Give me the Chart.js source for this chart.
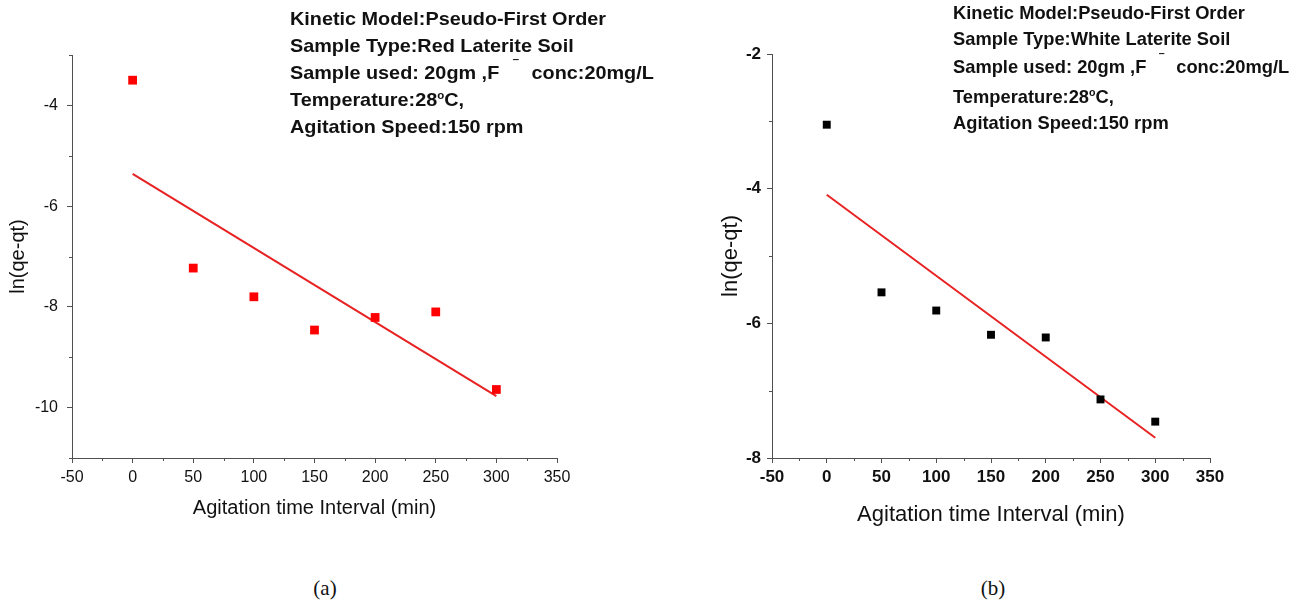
<!DOCTYPE html>
<html>
<head>
<meta charset="utf-8">
<script src="https://cdn.jsdelivr.net/npm/chart.js@4.4.1/dist/chart.umd.min.js"></script>
<style>
  body { margin: 0; background: #fff; }
  #wrap { position: relative; width: 1301px; height: 606px; overflow: hidden; }
  canvas { position: absolute; top: 0; }
  .note-line { position: absolute; white-space: nowrap; font-weight: bold; font-size: 19px;
               line-height: 20px; height: 20px; color: #111; transform-origin: 0 50%; }
  .note-line sup { font-size: 11px; position: relative; top: -7px; vertical-align: baseline; line-height: 0; }
  .note-line .fminus { display: inline-block; font-size: 12px; position: relative; top: -10px;
                       line-height: 0; margin: 0 13px 0 14px; }
  .cap { position: absolute; font-family: "Liberation Serif", "Times New Roman", serif; font-size: 21px;
         color: #111; transform: translate(-50%, -50%); }
</style>
</head>
<body>
<div id="wrap">
  <canvas id="chartA" width="650" height="540" style="left:0"></canvas>
  <canvas id="chartB" width="651" height="540" style="left:650px"></canvas>
  <div class="cap" style="left:325px;top:588px">(a)</div>
  <div class="cap" style="left:993px;top:588px">(b)</div>
</div>
<script>
// agitation time and ln(qe-qt) for both soils
const timeMin = [0, 50, 100, 150, 200, 250, 300];
const lnRed = [-3.5, -7.23, -7.8, -8.46, -8.21, -8.1, -9.64];
const lnWhite = [-3.05, -5.54, -5.81, -6.17, -6.21, -7.13, -7.46];

// fitted lines (end points)
const fitX = [0, 300];
const fitRed = [-5.36, -9.77];
const fitWhite = [-4.09, -7.70];

// tick labels
const xTickLabels = [-50, 0, 50, 100, 150, 200, 250, 300, 350];
const yTickLabelsA = [-4, -6, -8, -10];
const yTickLabelsB = [-2, -4, -6, -8];

const notesA = [
  'Kinetic Model:Pseudo-First Order',
  'Sample Type:Red Laterite Soil',
  'Sample used: 20gm ,F<span class="fminus">&#8254;</span>conc:20mg/L',
  'Temperature:28<sup>o</sup>C,',
  'Agitation Speed:150 rpm'
];
const notesB = [
  'Kinetic Model:Pseudo-First Order',
  'Sample Type:White Laterite Soil',
  'Sample used: 20gm ,F<span class="fminus">&#8254;</span>conc:20mg/L',
  'Temperature:28<sup>o</sup>C,',
  'Agitation Speed:150 rpm'
];

const AXIS_COLOR = '#505050';
const LINE_RED = 'rgb(232,34,34)';

function hasFont(name) {
  const c = document.createElement('canvas').getContext('2d');
  const probe = 'Agitation 0123456789';
  c.font = '20px monospace';
  const base = c.measureText(probe).width;
  c.font = `20px "${name}", monospace`;
  return c.measureText(probe).width !== base;
}
const NARROW = hasFont('Liberation Sans Narrow');
const SANS = '"Liberation Sans", Arial, sans-serif';
const NARROW_FAMILY = NARROW ? '"Liberation Sans Narrow", ' + SANS : SANS;

// short marks for the unlabelled ticks
const minorTicks = {
  id: 'minorTicks',
  afterDraw(chart) {
    const ctx = chart.ctx;
    ctx.save();
    ctx.strokeStyle = AXIS_COLOR;
    ctx.lineWidth = 1;
    ['x', 'y'].forEach(id => {
      const s = chart.scales[id];
      s.ticks.forEach(t => {
        if (t.label !== '') return;
        const p = Math.round(s.getPixelForValue(t.value)) + 0.5;
        ctx.beginPath();
        if (id === 'x') { ctx.moveTo(p, s.top); ctx.lineTo(p, s.top + 3); }
        else { ctx.moveTo(s.right, p); ctx.lineTo(s.right - 3, p); }
        ctx.stroke();
      });
    });
    ctx.restore();
  }
};

function points(xs, ys) {
  return xs.map((x, i) => ({ x, y: ys[i] }));
}

function makeChart(canvasId, cfg) {
  const labelled = (list) => (v) => list.includes(v) ? String(v) : '';
  return new Chart(document.getElementById(canvasId), {
    type: 'scatter',
    data: {
      datasets: [
        {
          data: points(timeMin, cfg.values),
          pointStyle: 'rect',
          pointRadius: cfg.pointRadius,
          backgroundColor: cfg.pointColor,
          borderColor: cfg.pointColor,
          borderWidth: 0
        },
        {
          data: points(fitX, cfg.fit),
          showLine: true,
          pointRadius: 0,
          borderColor: LINE_RED,
          borderWidth: 2
        }
      ]
    },
    options: {
      responsive: false,
      animation: false,
      layout: { padding: cfg.padding },
      plugins: { legend: { display: false }, tooltip: { enabled: false } },
      scales: {
        x: {
          type: 'linear',
          min: -50, max: 350,
          afterFit: s => { s.height = cfg.xHeight; },
          border: { color: AXIS_COLOR, width: 1 },
          grid: { drawOnChartArea: false, tickLength: 5,
                  tickColor: c => xTickLabels.includes(c.tick.value) ? AXIS_COLOR : 'rgba(0,0,0,0)' },
          ticks: { stepSize: 25, autoSkip: false, maxRotation: 0, padding: cfg.xTickPad,
                   color: '#111', font: cfg.tickFont, callback: labelled(xTickLabels) },
          title: { display: true, text: 'Agitation time Interval (min)', color: '#111',
                   font: cfg.titleFont, padding: { top: 0, bottom: cfg.xTitlePad } }
        },
        y: {
          type: 'linear',
          min: cfg.yMin, max: cfg.yMax,
          afterFit: s => { s.width = cfg.yWidth; },
          border: { color: AXIS_COLOR, width: 1 },
          grid: { drawOnChartArea: false, tickLength: 5,
                  tickColor: c => cfg.yLabels.includes(c.tick.value) ? AXIS_COLOR : 'rgba(0,0,0,0)' },
          ticks: { stepSize: 1, autoSkip: false, padding: cfg.yTickPad,
                   color: '#111', font: cfg.tickFont, callback: labelled(cfg.yLabels) },
          title: { display: true, text: 'ln(qe-qt)', color: '#111',
                   font: cfg.titleFont, padding: { top: cfg.yTitlePad, bottom: 0 } }
        }
      }
    },
    plugins: [minorTicks]
  });
}

makeChart('chartA', {
  values: lnRed, fit: fitRed, pointColor: '#ff0000', pointRadius: 6.2,
  yMin: -11, yMax: -3, yLabels: yTickLabelsA,
  padding: { top: 55, right: 93, bottom: 0, left: 0 },
  xHeight: 82, yWidth: 72,
  xTickPad: 5, yTickPad: 9, xTitlePad: 20, yTitlePad: 6,
  tickFont: { family: SANS, size: 16 },
  titleFont: { family: SANS, size: 20 }
});

makeChart('chartB', {
  values: lnWhite, fit: fitWhite, pointColor: '#000000', pointRadius: 5.6,
  yMin: -8, yMax: -2, yLabels: yTickLabelsB,
  padding: { top: 54, right: 91, bottom: 0, left: 0 },
  xHeight: 82, yWidth: 122,
  xTickPad: 4, yTickPad: 6, xTitlePad: 12, yTitlePad: 68,
  tickFont: NARROW ? { family: NARROW_FAMILY, size: 20, weight: 'bold' }
                   : { family: SANS, size: 17, weight: 'bold' },
  titleFont: { family: SANS, size: 22 }
});

// condition notes beside each plot
function addNotes(lines, left, centers, firstWidth) {
  const wrap = document.getElementById('wrap');
  const els = lines.map((html, i) => {
    const d = document.createElement('div');
    d.className = 'note-line';
    d.style.fontFamily = NARROW_FAMILY;
    d.style.left = left + 'px';
    d.style.top = (centers[i] - 10) + 'px';
    d.innerHTML = html;
    wrap.appendChild(d);
    return d;
  });
  const sx = firstWidth / els[0].getBoundingClientRect().width;
  els.forEach(d => { d.style.transform = `scaleX(${sx})`; });
}
addNotes(notesA, 290, [19, 45.5, 72.5, 99.5, 126.5], 316);
addNotes(notesB, 953, [13.3, 39.3, 66.7, 96.7, 122.7], 292);
</script>
</body>
</html>
